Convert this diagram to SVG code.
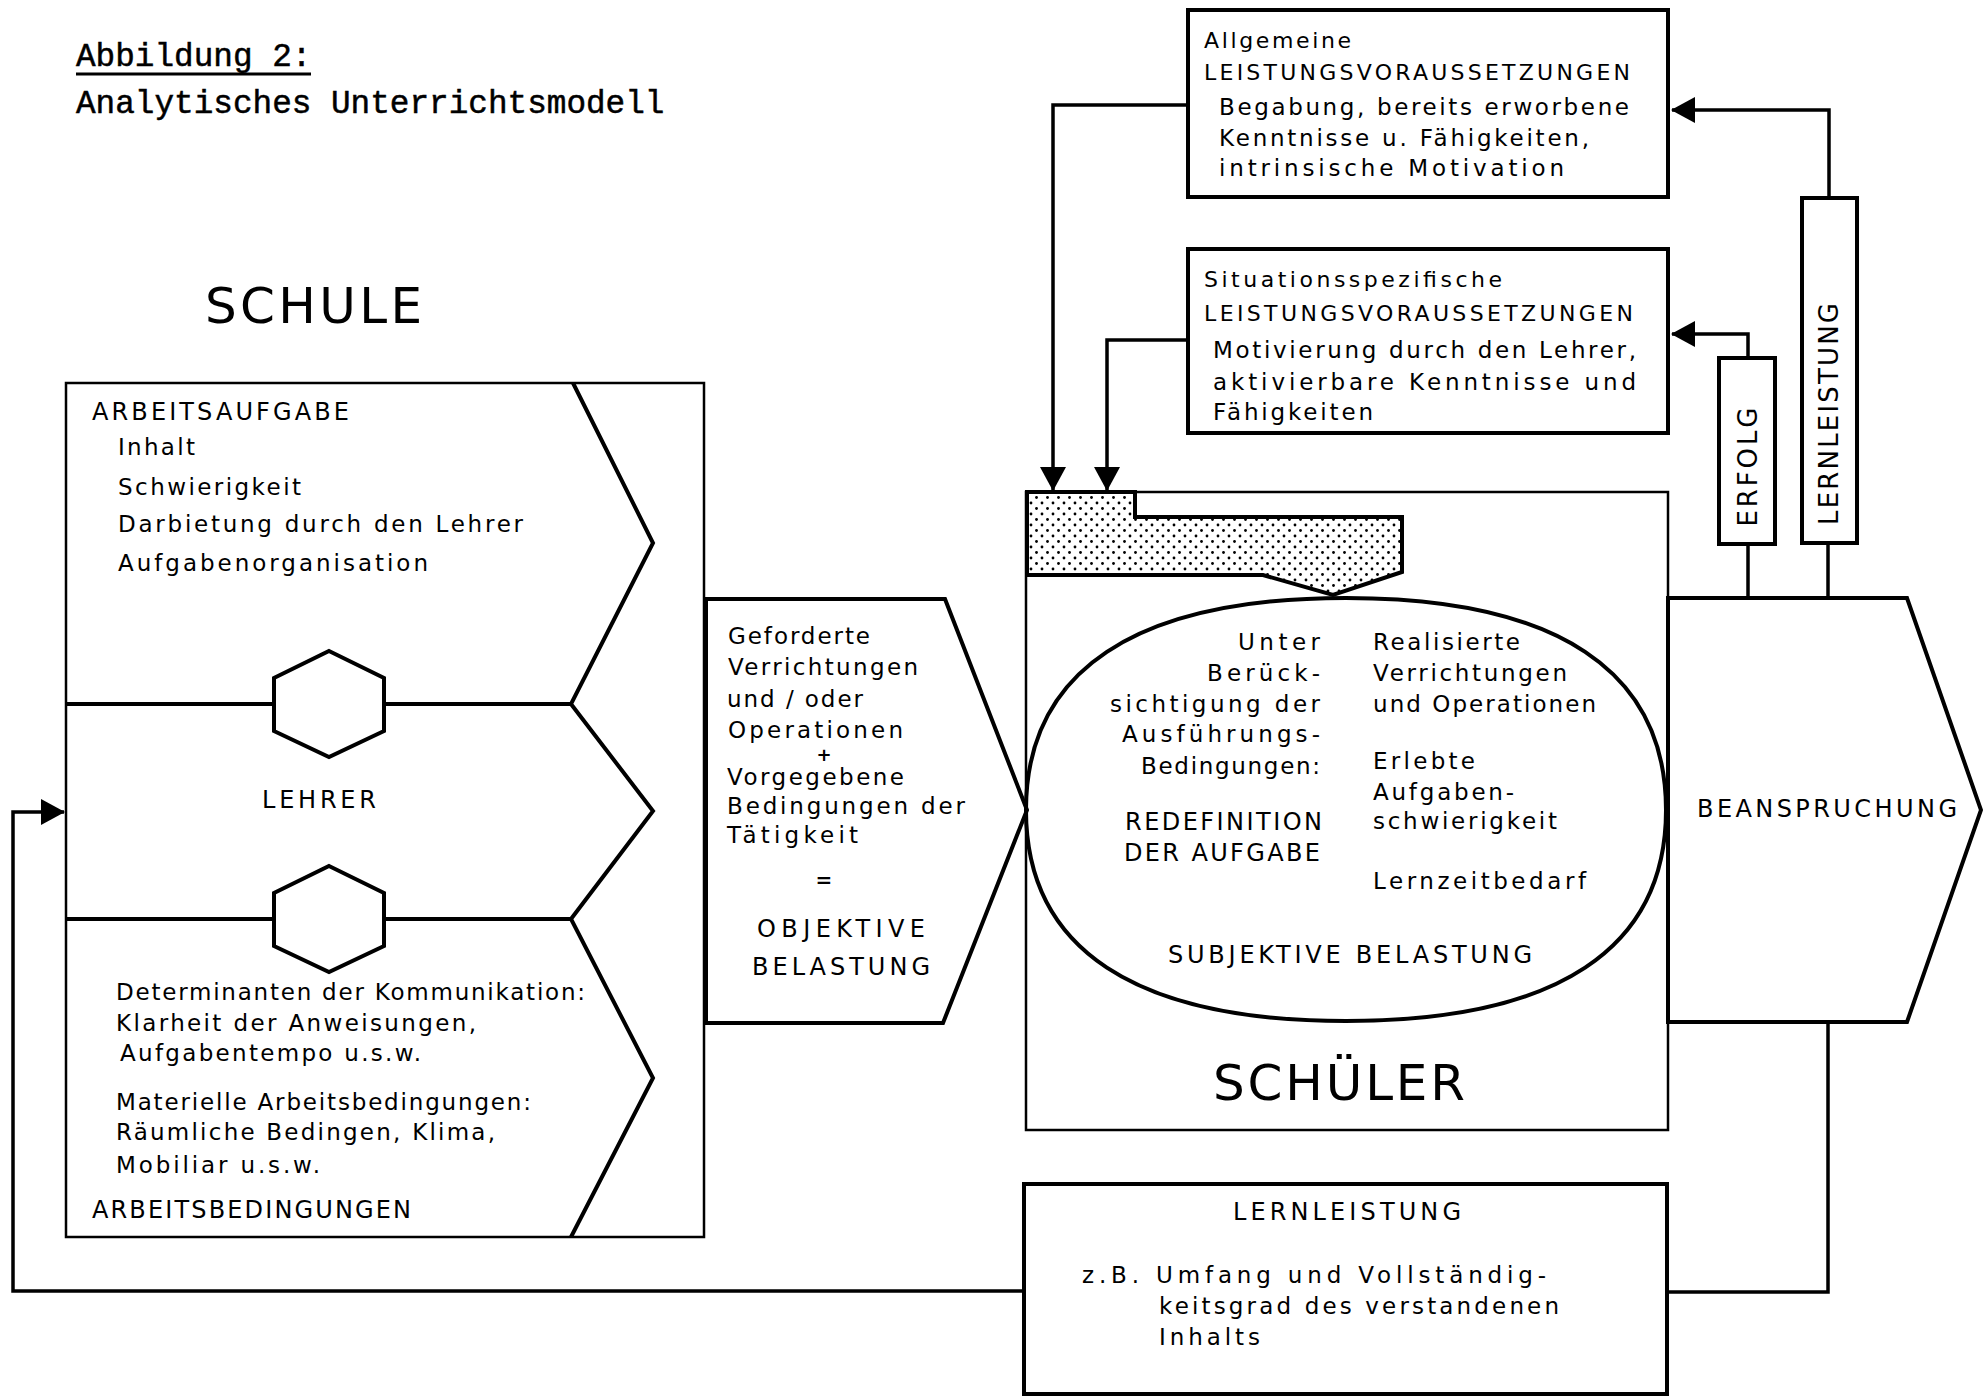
<svg xmlns="http://www.w3.org/2000/svg" width="1983" height="1396" viewBox="0 0 1983 1396">
<style>
text{font-family:"DejaVu Sans","Liberation Sans",sans-serif;font-size:23px;fill:#000}
.cap{font-size:24px}
.big{font-size:50px}
.vert{font-size:26px}
.sm{font-size:22px}
.mono{font-family:"Liberation Mono","Courier New",monospace;font-size:32.7px;stroke:#000;stroke-width:0.5}
.box{fill:#fff;stroke:#000;stroke-width:4}
.thin{fill:none;stroke:#000;stroke-width:2.5}
.line{fill:none;stroke:#000;stroke-width:4}
.conn{fill:none;stroke:#000;stroke-width:3.5}
.end{text-anchor:end}
.mid{text-anchor:middle}
</style>
<defs>
<marker id="ah" viewBox="0 0 24 26" refX="23" refY="13" markerWidth="24" markerHeight="26" markerUnits="userSpaceOnUse" orient="auto">
<path d="M0,0 L24,13 L0,26 Z" fill="#000"/>
</marker>
<pattern id="dots" width="11" height="11" patternUnits="userSpaceOnUse">
<circle cx="2.5" cy="2.5" r="1.4" fill="#000"/>
<circle cx="8" cy="8" r="1.4" fill="#000"/>
</pattern>
</defs>
<rect width="1983" height="1396" fill="#fff"/>

<g id="title">
<text class="mono" x="76" y="66">Abbildung 2:</text>
<line x1="76" y1="74" x2="311" y2="74" stroke="#000" stroke-width="3"/>
<text class="mono" x="76" y="113">Analytisches Unterrichtsmodell</text>
</g>

<g id="schule-label">
<text class="big" x="205" y="323" textLength="217">SCHULE</text>
</g>

<g id="connectors">
<path class="conn" d="M1188,105 H1053 V490" marker-end="url(#ah)"/>
<path class="conn" d="M1188,340 H1107 V490" marker-end="url(#ah)"/>
<path class="conn" d="M1829,198 V110 H1672" marker-end="url(#ah)"/>
<path class="conn" d="M1748,358 V334 H1672" marker-end="url(#ah)"/>
<path class="conn" d="M1748,598 V544"/>
<path class="conn" d="M1828,598 V543"/>
<path class="conn" d="M1828,1022 V1292 H1667"/>
<path class="conn" d="M1024,1291 H13 V812 H64" marker-end="url(#ah)"/>
</g>

<g id="schule-box">
<rect class="thin" x="66" y="383" width="638" height="854"/>
<path class="line" d="M66,704 H274 M384,704 H571 M66,919 H274 M384,919 H571"/>
<polyline class="line" points="573,383 653,543 571,704 653,811 571,919 653,1078 571,1237"/>
<g id="hex-1"><polygon class="box" points="329,651 384,678 384,731 329,757 274,731 274,678"/></g>
<g id="hex-2"><polygon class="box" points="329,866 384,893 384,946 329,972 274,946 274,893"/></g>
<g id="arbeitsaufgabe">
<text class="cap" x="92" y="420" textLength="257">ARBEITSAUFGABE</text>
<text x="118" y="455" textLength="77">Inhalt</text>
<text x="118" y="495" textLength="183">Schwierigkeit</text>
<text x="118" y="532" textLength="405">Darbietung durch den Lehrer</text>
<text x="118" y="571" textLength="310">Aufgabenorganisation</text>
</g>
<g id="lehrer">
<text class="cap" x="262" y="808" textLength="114">LEHRER</text>
</g>
<g id="arbeitsbedingungen">
<text x="116" y="1000" textLength="469">Determinanten der Kommunikation:</text>
<text x="116" y="1031" textLength="360">Klarheit der Anweisungen,</text>
<text x="120" y="1061" textLength="301">Aufgabentempo u.s.w.</text>
<text x="116" y="1110" textLength="415">Materielle Arbeitsbedingungen:</text>
<text x="116" y="1140" textLength="379">Räumliche Bedingen, Klima,</text>
<text x="116" y="1173" textLength="204">Mobiliar u.s.w.</text>
<text class="cap" x="92" y="1218" textLength="319">ARBEITSBEDINGUNGEN</text>
</g>
</g>

<g id="objektive-belastung">
<polygon class="box" points="706,599 945,599 1027,810 943,1023 706,1023"/>
<text x="728" y="644" textLength="142">Geforderte</text>
<text x="728" y="675" textLength="190">Verrichtungen</text>
<text x="727" y="707" textLength="136">und / oder</text>
<text x="728" y="738" textLength="175">Operationen</text>
<text class="mid" x="824" y="761" style="font-size:18px;font-weight:bold">+</text>
<text x="727" y="785" textLength="177">Vorgegebene</text>
<text x="727" y="814" textLength="238">Bedingungen der</text>
<text x="727" y="843" textLength="131">Tätigkeit</text>
<text class="mid" x="824" y="887" style="font-size:20px;font-weight:bold">=</text>
<text class="cap" x="757" y="937" textLength="168">OBJEKTIVE</text>
<text class="cap" x="752" y="975" textLength="178">BELASTUNG</text>
</g>

<g id="schueler">
<rect class="thin" x="1026" y="492" width="642" height="638"/>
<polygon fill="url(#dots)" stroke="#000" stroke-width="4" stroke-linejoin="miter" points="1027,492 1135,492 1135,517 1402,517 1402,572 1333,595 1263,575 1027,575"/>
<path class="line" d="M1346,598 C1557,598 1666,671 1666,810 C1666,949 1557,1021 1346,1021 C1135,1021 1026,949 1026,810 C1026,671 1135,598 1346,598 Z"/>
<g id="subjektive-belastung">
<text class="end" x="1320" y="650" textLength="82">Unter</text>
<text class="end" x="1320" y="681" textLength="113">Berück-</text>
<text class="end" x="1320" y="712" textLength="210">sichtigung der</text>
<text class="end" x="1320" y="742" textLength="198">Ausführungs-</text>
<text class="end" x="1320" y="774" textLength="179">Bedingungen:</text>
<text class="cap end" x="1322" y="830" textLength="197">REDEFINITION</text>
<text class="cap end" x="1320" y="861" textLength="196">DER AUFGABE</text>
<text x="1373" y="650" textLength="147">Realisierte</text>
<text x="1373" y="681" textLength="194">Verrichtungen</text>
<text x="1373" y="712" textLength="223">und Operationen</text>
<text x="1373" y="769" textLength="102">Erlebte</text>
<text x="1373" y="800" textLength="141">Aufgaben-</text>
<text x="1373" y="829" textLength="184">schwierigkeit</text>
<text x="1373" y="889" textLength="213">Lernzeitbedarf</text>
<text class="cap" x="1168" y="963" textLength="364">SUBJEKTIVE BELASTUNG</text>
</g>
<text class="big" x="1213" y="1100" textLength="252">SCHÜLER</text>
</g>

<g id="beanspruchung">
<polygon class="box" points="1668,598 1907,598 1981,810 1907,1022 1668,1022"/>
<text class="cap" x="1697" y="817" textLength="260">BEANSPRUCHUNG</text>
</g>

<g id="allgemeine">
<rect class="box" x="1188" y="10" width="480" height="187"/>
<text class="sm" x="1204" y="48" textLength="147">Allgemeine</text>
<text class="sm" x="1204" y="80" textLength="426">LEISTUNGSVORAUSSETZUNGEN</text>
<text x="1219" y="115" textLength="410">Begabung, bereits erworbene</text>
<text x="1219" y="146" textLength="370">Kenntnisse u. Fähigkeiten,</text>
<text x="1219" y="176" textLength="345">intrinsische Motivation</text>
</g>

<g id="situationsspezifische">
<rect class="box" x="1188" y="249" width="480" height="184"/>
<text class="sm" x="1204" y="287" textLength="298">Situationsspezifische</text>
<text class="sm" x="1204" y="321" textLength="429">LEISTUNGSVORAUSSETZUNGEN</text>
<text x="1213" y="358" textLength="423">Motivierung durch den Lehrer,</text>
<text x="1213" y="390" textLength="423">aktivierbare Kenntnisse und</text>
<text x="1213" y="420" textLength="160">Fähigkeiten</text>
</g>

<g id="erfolg">
<rect class="box" x="1719" y="358" width="56" height="186"/>
<text class="vert mid" transform="translate(1757,467) rotate(-90)" textLength="119">ERFOLG</text>
</g>

<g id="lernleistung-bar">
<rect class="box" x="1802" y="198" width="55" height="345"/>
<text class="vert mid" transform="translate(1838,414) rotate(-90)" textLength="222">LERNLEISTUNG</text>
</g>

<g id="lernleistung-box">
<rect class="box" x="1024" y="1184" width="643" height="210"/>
<text class="cap" x="1233" y="1220" textLength="228">LERNLEISTUNG</text>
<text x="1082" y="1283" textLength="464">z.B. Umfang und Vollständig-</text>
<text x="1159" y="1314" textLength="400">keitsgrad des verstandenen</text>
<text x="1159" y="1345" textLength="101">Inhalts</text>
</g>
</svg>
